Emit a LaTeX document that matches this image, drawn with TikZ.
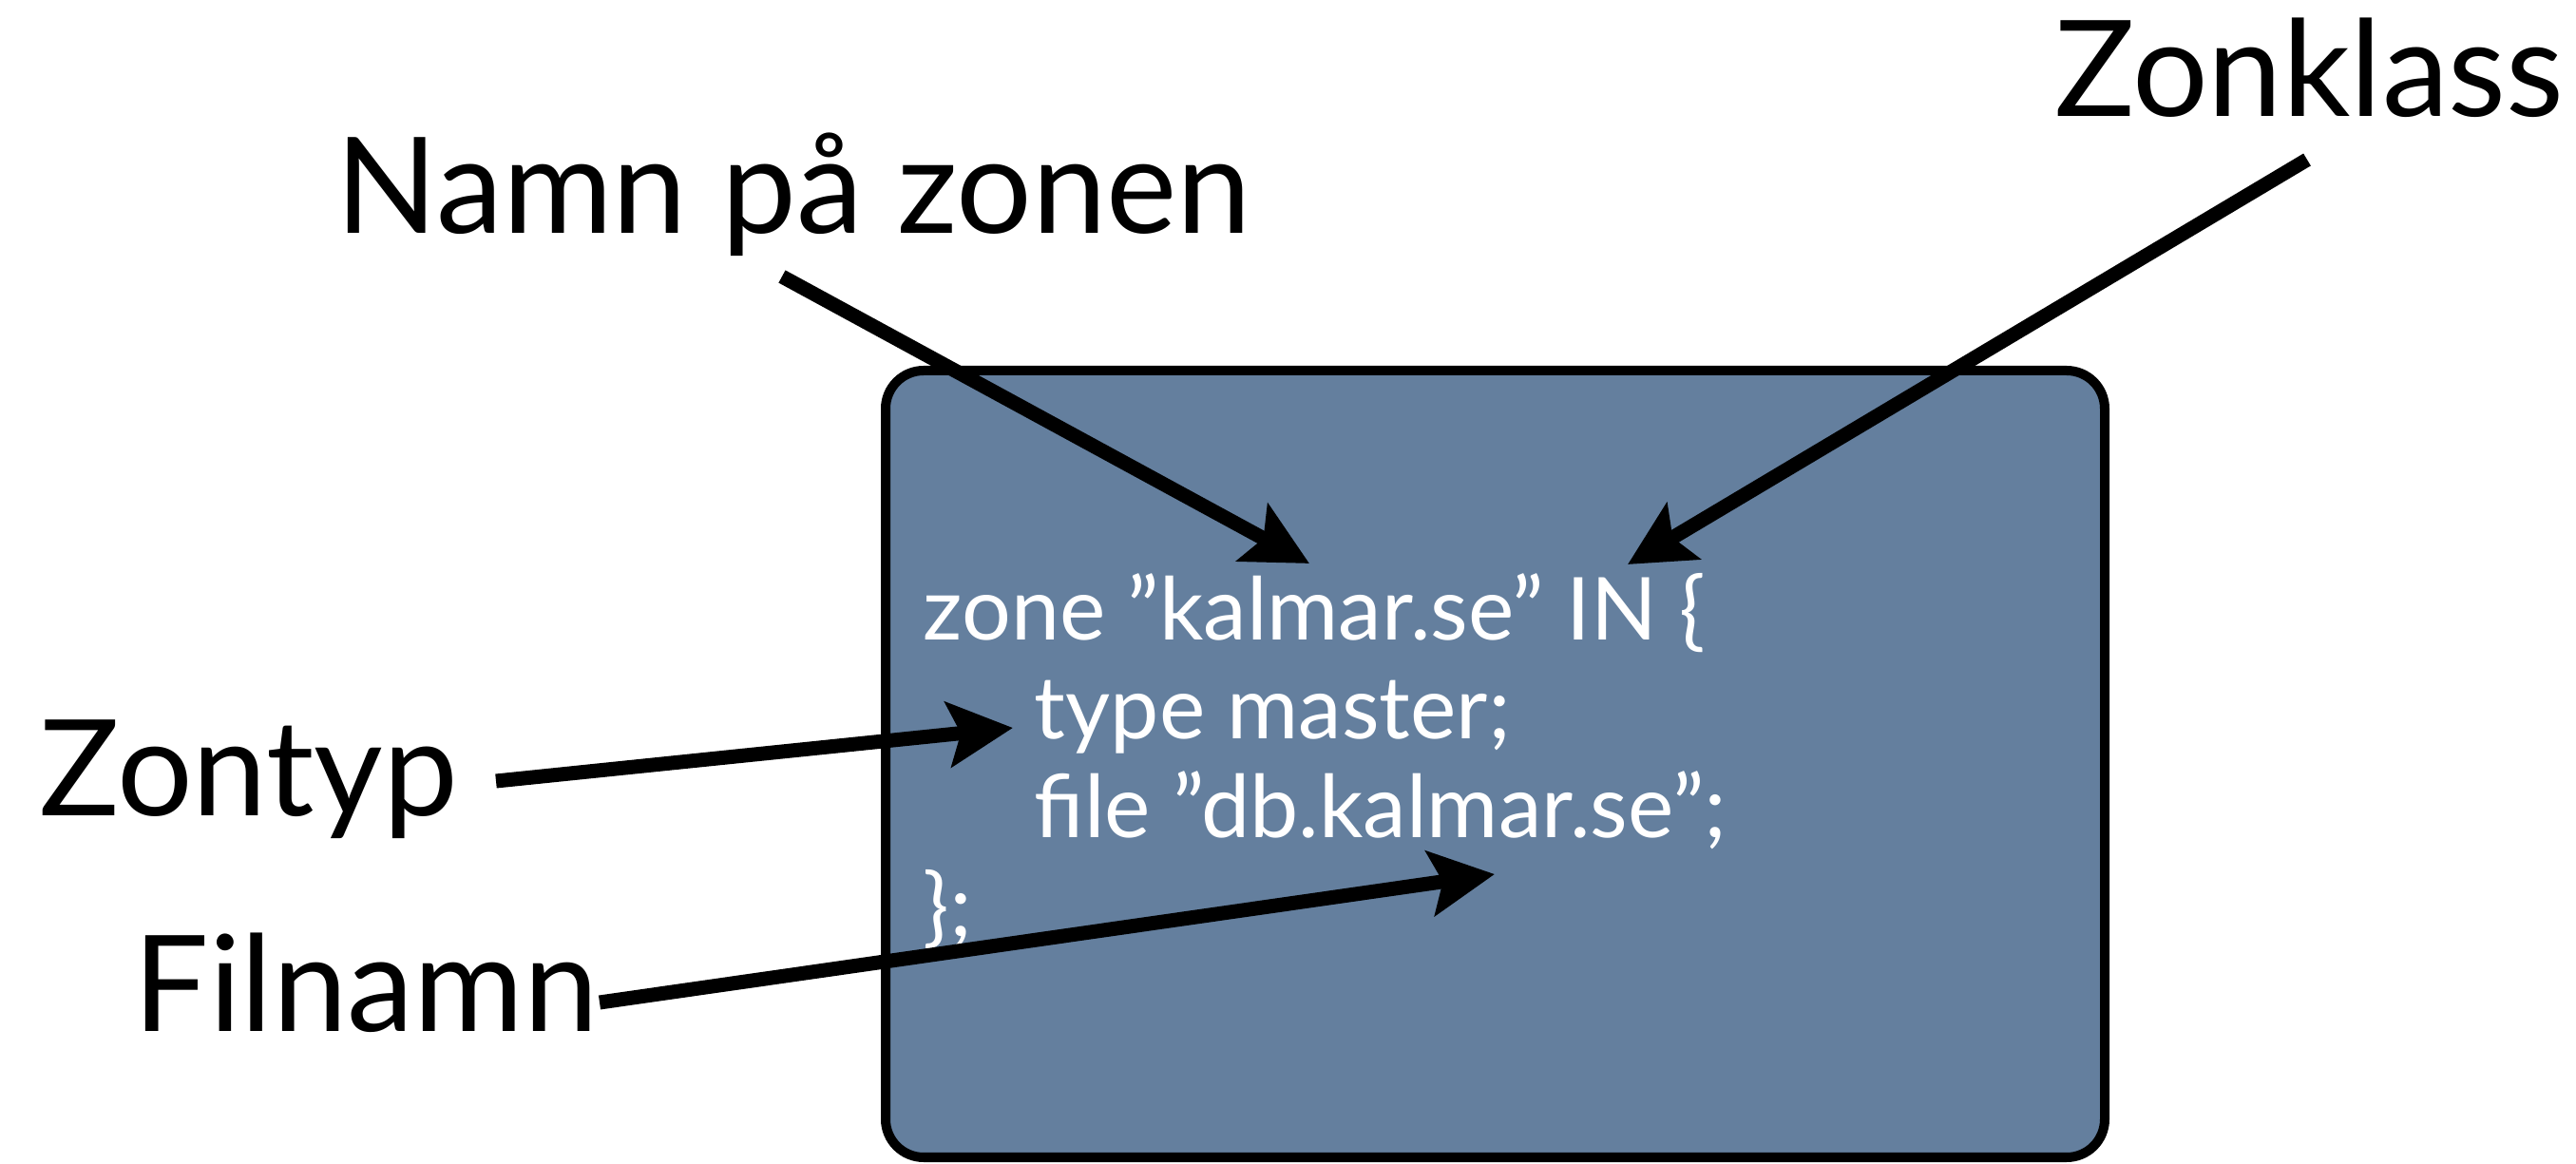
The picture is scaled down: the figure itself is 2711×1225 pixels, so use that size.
\documentclass[tikz,border=0pt]{standalone}
\usepackage{fontspec}
\setmainfont{Lato}
\usetikzlibrary{arrows.meta}
\definecolor{boxblue}{RGB}{100,127,158}
\begin{document}
\begin{tikzpicture}[x=0.01cm,y=-0.01cm,
  lbl/.style={anchor=base west, inner sep=0pt, font=\fontsize{40}{48}\selectfont, text=black},
  code/.style={anchor=base west, inner sep=0pt, font=\fontsize{26}{31}\selectfont, text=white},
  pointer/.style={line width=0.15cm, -{Stealth[length=0.68cm,width=0.68cm,inset=0.13cm]}},
  panel/.style={fill=boxblue, draw=black, line width=0.1cm, rounded corners=0.4cm}]
\useasboundingbox (0,0) rectangle (2711,1225);
% panel
\draw[panel] (932,390) rectangle (2215,1218);
% labels
\node[lbl] (namn) at (353,246) {Namn på zonen};
\node[lbl] (zonklass) at (2162,123) {Zonklass};
\node[lbl] (zontyp) at (41,859) {Zontyp};
\node[lbl] (filnamn) at (140,1085) {Filnamn};
% code
\node[code] (l1) at (971,674) {zone ”kalmar.se” IN \{};
\node[code] (l2) at (1088,778) {type master;};
\node[code] (l3) at (1088,882) {file ”db.kalmar.se”;};
\node[code] (l4) at (971,986) {\};};
% arrow ends
\coordinate (s1) at (823,291);
\coordinate (t1) at (1378,593);
\coordinate (s2) at (2428,168);
\coordinate (t2) at (1713,594);
\coordinate (s3) at (522,822);
\coordinate (t3) at (1066,766);
\coordinate (s4) at (631,1055);
\coordinate (t4) at (1573,920);
\draw[pointer] (s1) -- (t1);
\draw[pointer] (s2) -- (t2);
\draw[pointer] (s3) -- (t3);
\draw[pointer] (s4) -- (t4);
\end{tikzpicture}
\end{document}
